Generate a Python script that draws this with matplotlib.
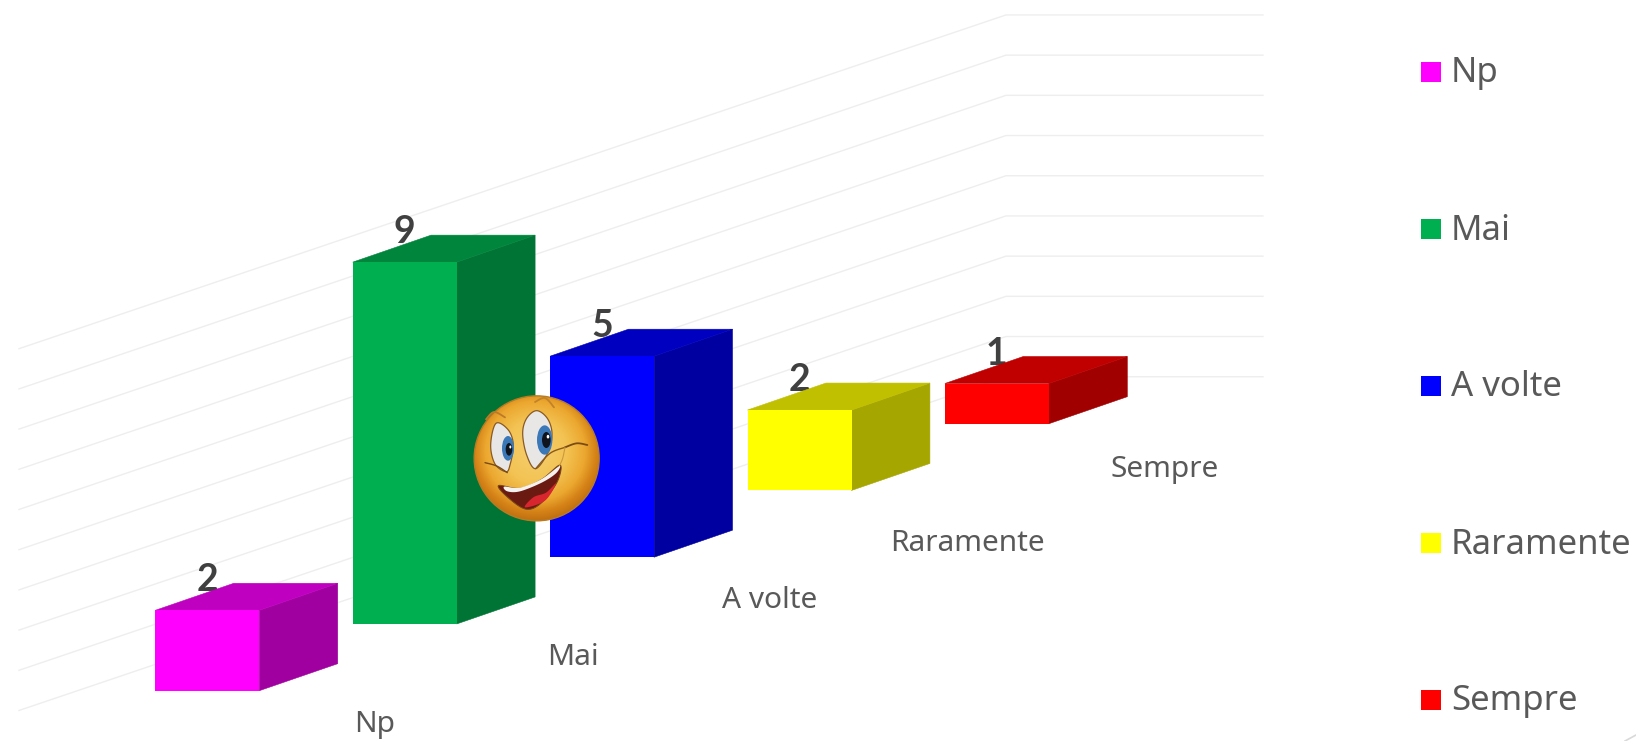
import numpy as np
import matplotlib
matplotlib.use("Agg")
import matplotlib.pyplot as plt
from matplotlib.patches import Polygon, Ellipse, Circle, Rectangle

categories = ["Np", "Mai", "A volte", "Raramente", "Sempre"]
values = [2, 9, 5, 2, 1]
front_colors = ["#FF00FF", "#00B050", "#0000FF", "#FFFF00", "#FF0000"]
side_colors = ["#A000A0", "#007435", "#0000A0", "#A6A600", "#A00000"]
top_colors = ["#C000C0", "#00853D", "#0000C0", "#C0C000", "#C00000"]
gridline_levels = list(range(10))

W, H = 1636, 741
FONT = "Noto Sans"
TEXT = "#595959"

fig = plt.figure(figsize=(W / 100, H / 100), dpi=100, facecolor="white")
ax = fig.add_axes([0, 0, 1, 1])
# one x unit = one category step, one y unit = one chart value
step_px, unit_px = 197.4, 40.2
x0_px, y0_px = 207.3, 690.7
ax.set_xlim(-x0_px / step_px, (W - x0_px) / step_px)
ax.set_ylim((y0_px - H) / unit_px, y0_px / unit_px)
ax.axis("off")

bar_w = 104 / step_px
rise = 66.75 / unit_px        # floor rise per category
depth_x = 78.4 / step_px
depth_y = 27 / unit_px

# gridlines: receding wall plus back wall
left_x, corner_x, right_x = -0.954, 4.046, 5.348
wall_base = 7.81
for k in gridline_levels:
    ys = [wall_base + k - (corner_x - left_x) * rise, wall_base + k, wall_base + k]
    ax.plot([left_x, corner_x, right_x], ys, color="#EEEEEE", lw=1.0, zorder=1,
            solid_joinstyle="miter")

# category label offsets below the floor, in points
label_drop = [24.0, 24.0, 31.0, 38.5, 33.0]

# bars
for i, (name, v) in enumerate(zip(categories, values)):
    base = i * rise
    l, r = i - bar_w / 2, i + bar_w / 2
    ax.add_patch(Polygon([(r, base), (r + depth_x, base + depth_y),
                          (r + depth_x, base + v + depth_y), (r, base + v)],
                         closed=True, fc=side_colors[i], ec=side_colors[i], lw=0.4, zorder=3))
    ax.add_patch(Polygon([(l, base + v), (r, base + v),
                          (r + depth_x, base + v + depth_y), (l + depth_x, base + v + depth_y)],
                         closed=True, fc=top_colors[i], ec=top_colors[i], lw=0.4, zorder=3))
    ax.bar(i, v, width=bar_w, bottom=base, color=front_colors[i], zorder=3.1, linewidth=0)
    ax.annotate(str(v), (i, base + v), xytext=(0, 21.5), textcoords="offset points",
                ha="center", va="center", fontsize=27, fontweight="bold",
                color="#404040", family="Lato", zorder=2.5)
    ax.annotate(name, (i + 0.85, base), xytext=(0, -label_drop[i]), textcoords="offset points",
                ha="center", va="center", fontsize=21.5, color=TEXT, family=FONT, zorder=2)

# legend
legend_y = [72, 229, 386, 543, 700]
for name, c, y in zip(categories, front_colors, legend_y):
    fig.patches.append(Rectangle((1421 / W, 1 - (y + 10) / H), 20 / W, 20 / H,
                                 transform=fig.transFigure, fc=c, ec="none"))
    fig.text(1451 / W, 1 - (y + 1.5) / H, name, ha="left", va="center", fontsize=25,
             color=TEXT, family=FONT)

# overlay in image pixels for the decorative picture and corner stroke
ov = fig.add_axes([0, 0, 1, 1], facecolor="none")
ov.set_xlim(0, W)
ov.set_ylim(H, 0)
ov.axis("off")
ov.plot([1625, 1636], [741, 735], color="#D9D9D9", lw=1.2)

def P(x, y):
    return 470 + x / 3, 390 + y / 3

def smooth(pts, n=14, closed=True):
    p = np.array(pts, float)
    m = len(p)
    out = []
    rng = range(m) if closed else range(m - 1)
    for i in rng:
        if closed:
            a, b, c, d = p[(i - 1) % m], p[i], p[(i + 1) % m], p[(i + 2) % m]
        else:
            a, b, c, d = p[max(i - 1, 0)], p[i], p[i + 1], p[min(i + 2, m - 1)]
        for t in np.linspace(0, 1, n, endpoint=False):
            out.append(0.5 * (2 * b + (c - a) * t + (2 * a - 5 * b + 4 * c - d) * t ** 2
                              + (3 * b - a - 3 * c + d) * t ** 3))
    if not closed:
        out.append(p[-1])
    return np.array(out)

def shape(pts, fc, ec="none", lw=0, z=6):
    q = [P(*a) for a in pts]
    ov.add_patch(Polygon(smooth(q), closed=True, fc=fc, ec=ec, lw=lw, zorder=z))

def stroke(pts, color, lw, z=7):
    q = smooth([P(*a) for a in pts], closed=False)
    ov.plot(q[:, 0], q[:, 1], color=color, lw=lw, zorder=z, solid_capstyle="round")

def oval(cx, cy, w, h, ang, fc, ec="none", lw=0, z=7):
    ov.add_patch(Ellipse(P(cx, cy), w / 3, h / 3, angle=ang, fc=fc, ec=ec, lw=lw, zorder=z))

# face with a radial gradient
cx, cy = P(200, 205)
R = 62.5
g = np.linspace(-1, 1, 256)
gx, gy = np.meshgrid(g, g)
d = np.hypot(gx + 0.02, gy + 0.12)
stops = np.array([0, 0.5, 0.8, 0.97, 1.2])
r = np.interp(d, stops, [246, 243, 236, 214, 180])
gc = np.interp(d, stops, [206, 196, 168, 132, 100])
b = np.interp(d, stops, [112, 84, 48, 24, 14])
im = ov.imshow(np.dstack([r, gc, b]).astype(np.uint8),
               extent=[cx - R, cx + R, cy + R, cy - R], zorder=5, interpolation="bilinear")
im.set_clip_path(Circle((cx, cy), R, transform=ov.transData))
ov.set_xlim(0, W)
ov.set_ylim(H, 0)
ov.add_patch(Circle((cx, cy), R, fc="none", ec="#B87C22", lw=1.0, zorder=6))

# eyes
shape([(78, 100), (115, 120), (130, 165), (120, 225), (108, 245), (75, 222), (62, 165)],
      "#E9E7E6", ec="#8A5A22", lw=0.9)
oval(114, 175, 36, 74, 0, "#3B78B8")
oval(117, 178, 20, 38, 0, "#10141C", z=8)
oval(121, 171, 6, 9, 0, "white", z=9)
shape([(200, 62), (232, 85), (246, 130), (235, 185), (197, 236), (170, 195), (158, 130), (170, 85)],
      "#E9E7E6", ec="#8A5A22", lw=0.9)
oval(224, 150, 46, 88, 0, "#3B78B8")
oval(229, 150, 26, 48, 0, "#10141C", z=8)
oval(234, 140, 8, 11, 0, "white", z=9)

# brows and smile creases
stroke([(48, 88), (72, 66), (105, 82)], "#BC7A28", 1.3)
stroke([(195, 36), (225, 24), (252, 52)], "#C2822A", 1.3)
stroke([(45, 218), (80, 228), (112, 248)], "#7A4A14", 1.0)
stroke([(197, 236), (240, 190), (285, 172)], "#8A5A1A", 1.0)
stroke([(285, 172), (320, 160), (352, 165)], "#7A4A14", 1.3)
stroke([(285, 172), (278, 205), (268, 228)], "#CC9A3A", 0.8)

# mouth, teeth, tongue
shape([(85, 287), (150, 295), (215, 268), (270, 225), (262, 275), (215, 338), (170, 358), (120, 328)],
      "#6B1A12", ec="#7A4A14", lw=0.7)
shape([(165, 352), (190, 322), (228, 308), (258, 280), (225, 332)], "#D8262E")
shape([(103, 290), (150, 293), (215, 267), (268, 228), (258, 250), (215, 278), (150, 304), (112, 304)],
      "#F4F2EE", z=7)

fig.savefig("out.png", dpi=100, facecolor="white")
